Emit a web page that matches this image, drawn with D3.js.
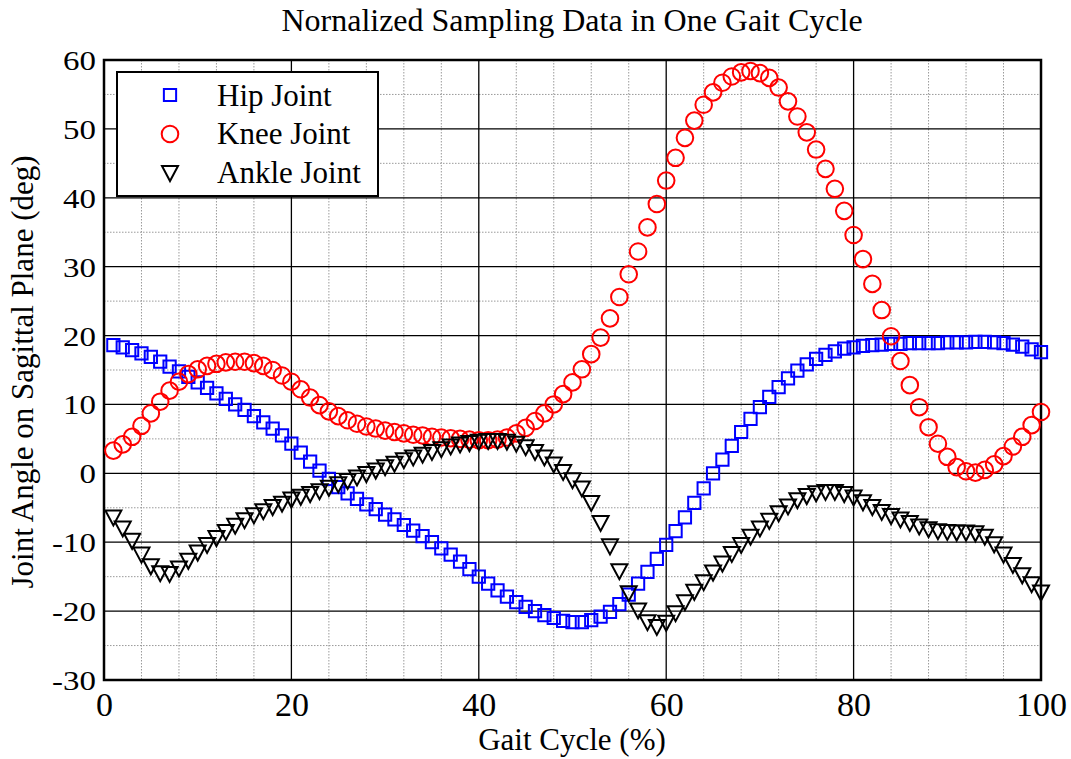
<!DOCTYPE html>
<html><head><meta charset="utf-8">
<script src="https://cdn.jsdelivr.net/npm/d3@7"></script>
<style>
html,body{margin:0;padding:0;background:#fff;}
svg text{font-family:"Liberation Serif","Times New Roman",serif;fill:#000;}
</style></head>
<body><svg id="chart" width="1071" height="759"></svg>
<script>
const gaitCycle = d3.range(1, 101);
const hipJoint = [18.6,18.3,17.9,17.4,16.9,16.2,15.5,14.8,14.0,13.2,
12.4,11.6,10.8,10.0,9.2,8.3,7.4,6.5,5.5,4.3,
3.0,1.7,0.4,-0.8,-2.0,-2.9,-3.7,-4.5,-5.2,-6.0,
-6.7,-7.5,-8.3,-9.1,-10.0,-10.9,-11.8,-12.8,-13.9,-15.0,
-16.0,-17.0,-17.9,-18.7,-19.4,-20.0,-20.6,-21.0,-21.4,-21.6,
-21.6,-21.3,-20.8,-20.1,-19.0,-17.6,-16.0,-14.3,-12.4,-10.4,
-8.4,-6.4,-4.3,-2.2,0.0,2.0,4.0,6.0,7.9,9.6,
11.1,12.5,13.8,14.9,15.8,16.6,17.2,17.7,18.1,18.3,
18.5,18.6,18.7,18.8,18.8,18.9,18.9,18.9,18.9,19.0,
19.0,19.0,19.1,19.1,19.0,18.9,18.7,18.4,18.0,17.6];
const kneeJoint = [3.3,4.2,5.3,6.9,8.7,10.4,12.0,13.3,14.4,15.1,
15.6,15.9,16.1,16.2,16.2,16.0,15.6,15.0,14.2,13.3,
12.2,11.0,9.9,9.0,8.3,7.7,7.2,6.8,6.5,6.2,
6.0,5.8,5.6,5.5,5.3,5.2,5.1,5.0,4.9,4.8,
4.8,4.9,5.2,5.8,6.6,7.6,8.7,10.0,11.5,13.2,
15.1,17.3,19.7,22.5,25.6,28.9,32.2,35.7,39.1,42.5,
45.8,48.7,51.2,53.5,55.3,56.7,57.6,58.2,58.4,58.1,
57.4,56.0,54.0,51.8,49.5,47.0,44.2,41.3,38.1,34.6,
31.1,27.5,23.7,19.9,16.3,12.8,9.6,6.7,4.3,2.4,
0.9,0.3,0.1,0.5,1.3,2.5,3.9,5.3,7.0,8.9];
const ankleJoint = [-6.4,-8.0,-9.8,-11.8,-13.5,-14.5,-14.6,-13.8,-12.7,-11.5,
-10.4,-9.4,-8.5,-7.6,-6.8,-6.1,-5.5,-4.9,-4.4,-3.8,
-3.4,-3.0,-2.6,-2.1,-1.6,-1.1,-0.6,-0.1,0.4,0.9,
1.4,1.9,2.3,2.7,3.1,3.5,3.9,4.2,4.4,4.6,
4.7,4.7,4.6,4.3,3.8,3.1,2.3,1.3,0.2,-1.0,
-2.2,-4.3,-7.2,-10.6,-14.2,-17.4,-19.9,-21.6,-22.3,-21.7,
-20.3,-18.7,-17.2,-15.8,-14.4,-13.1,-11.7,-10.4,-9.2,-8.0,
-6.9,-5.8,-4.8,-3.9,-3.3,-2.9,-2.7,-2.7,-3.0,-3.5,
-4.2,-4.9,-5.6,-6.2,-6.7,-7.2,-7.7,-8.1,-8.4,-8.5,
-8.6,-8.6,-8.7,-9.2,-10.3,-11.8,-13.3,-14.8,-16.1,-17.3];
const xTicks = [0,20,40,60,80,100];
const yTicks = [-30,-20,-10,0,10,20,30,40,50,60];
const xMinor = d3.range(0, 101, 4);
const yMinor = d3.range(-30, 61, 5);
const seriesNames = ["Hip Joint","Knee Joint","Ankle Joint"];
const seriesColors = ["#0000ff","#ff0000","#000000"];
const seriesValues = [hipJoint, kneeJoint, ankleJoint];

const svg = d3.select("#chart");
const L = 104, R = 1041, T = 60, B = 680;
const x = d3.scaleLinear().domain([0,100]).range([L,R]);
const y = d3.scaleLinear().domain([-30,60]).range([B,T]);

// minor grid
const g = svg.append("g");
g.selectAll(".mx").data(xMinor.filter(v=>v%20!==0)).join("line")
  .attr("x1",d=>x(d)).attr("x2",d=>x(d)).attr("y1",T).attr("y2",B)
  .attr("stroke","#9a9a9a").attr("stroke-width",1).attr("stroke-dasharray","1.5,1.5");
g.selectAll(".my").data(yMinor.filter(v=>v%10!==0)).join("line")
  .attr("y1",d=>y(d)).attr("y2",d=>y(d)).attr("x1",L).attr("x2",R)
  .attr("stroke","#9a9a9a").attr("stroke-width",1).attr("stroke-dasharray","1.5,1.5");
// major grid
g.selectAll(".Mx").data(xTicks.slice(1,-1)).join("line")
  .attr("x1",d=>x(d)).attr("x2",d=>x(d)).attr("y1",T).attr("y2",B)
  .attr("stroke","#000").attr("stroke-width",1.3);
g.selectAll(".My").data(yTicks.slice(1,-1)).join("line")
  .attr("y1",d=>y(d)).attr("y2",d=>y(d)).attr("x1",L).attr("x2",R)
  .attr("stroke","#000").attr("stroke-width",1.3);

// axes (labels via d3 axis)
const fmt = d => String(d);
const xAxis = svg.append("g").attr("transform",`translate(0,${B})`)
  .call(d3.axisBottom(x).tickValues(xTicks).tickSize(0).tickPadding(12).tickFormat(fmt));
xAxis.select(".domain").remove();
xAxis.selectAll("text").attr("font-size",34).attr("dy","0.72em")
  .attr("font-family","Liberation Serif, Times New Roman, serif");
const yAxis = svg.append("g").attr("transform",`translate(${L},0)`)
  .call(d3.axisLeft(y).tickValues(yTicks).tickSize(0).tickPadding(8).tickFormat(fmt));
yAxis.select(".domain").remove();
yAxis.selectAll(".tick text").each(function(){
  const t = d3.select(this);
  t.attr("font-size",27).attr("x",0).attr("dy","0.35em")
   .attr("font-family","Liberation Serif, Times New Roman, serif")
   .attr("transform","translate(-8,0) scale(1.22,1)");
});

// frame
svg.append("rect").attr("x",L).attr("y",T).attr("width",R-L).attr("height",B-T)
  .attr("fill","none").attr("stroke","#000").attr("stroke-width",2.5);

// markers
const symSquare = d3.symbol().type(d3.symbolSquare).size(150);
const trianglePath = "M-8,-7L8,-7L0,8Z";
function drawMarker(sel, idx){
  if(idx===0) sel.append("path").attr("d",symSquare()).attr("fill","none").attr("stroke",seriesColors[0]).attr("stroke-width",2);
  else if(idx===1) sel.append("circle").attr("r",8.3).attr("fill","none").attr("stroke",seriesColors[1]).attr("stroke-width",2);
  else sel.append("path").attr("d",trianglePath).attr("fill","none").attr("stroke",seriesColors[2]).attr("stroke-width",2).attr("stroke-linejoin","miter");
}
seriesValues.forEach((vals, si)=>{
  const sg = svg.append("g");
  sg.selectAll("g").data(vals.map((v,i)=>({x:gaitCycle[i], y:v}))).join("g")
    .attr("transform",d=>`translate(${x(d.x)},${y(d.y)})`)
    .each(function(){ drawMarker(d3.select(this), si); });
});

// legend
const lg = svg.append("g");
lg.append("rect").attr("x",117).attr("y",72).attr("width",261).attr("height",124)
  .attr("fill","#fff").attr("stroke","#000").attr("stroke-width",2);
const legY = [95,134,173];
const textY = [106,144,183];
seriesNames.forEach((n,i)=>{
  const m = lg.append("g").attr("transform",`translate(170,${legY[i]})`);
  drawMarker(m,i);
  lg.append("text").attr("x",217).attr("y",textY[i]).attr("font-size",31).text(n);
});

// titles
svg.append("text").attr("x",572).attr("y",31).attr("text-anchor","middle").attr("font-size",32)
  .text("Nornalized Sampling Data in One Gait Cycle");
svg.append("text").attr("x",572).attr("y",750).attr("text-anchor","middle").attr("font-size",31)
  .text("Gait Cycle (%)");
svg.append("text").attr("transform","translate(33,372) rotate(-90)").attr("text-anchor","middle").attr("font-size",31)
  .text("Joint Angle on Sagittal Plane (deg)");
</script></body></html>
